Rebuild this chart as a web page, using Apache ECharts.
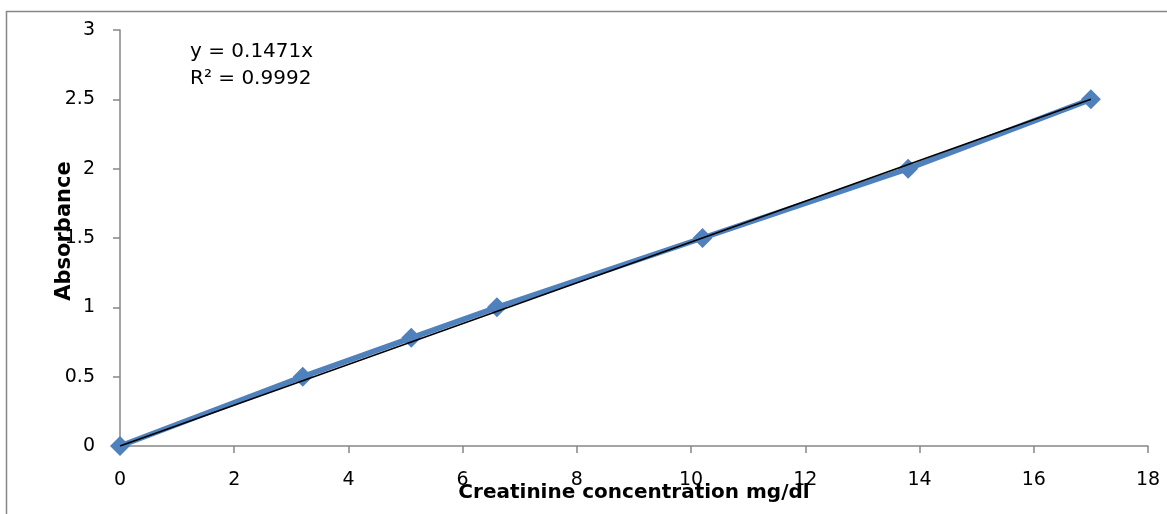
<!DOCTYPE html>
<html>
<head>
<meta charset="utf-8">
<script src="https://cdn.jsdelivr.net/npm/echarts@6/dist/echarts.min.js"></script>
<style>
html,body{margin:0;padding:0;background:#fff;}
#c{width:1167px;height:514px;}
</style>
</head>
<body>
<div id="c"></div>
<script>
var concentration = [0, 3.2, 5.1, 6.6, 10.2, 13.8, 17];
var absorbance = [0, 0.5, 0.78, 1.0, 1.5, 2.0, 2.5];
var trendSlope = 0.1471;
var trendX = [0, 17];
var equationLines = ['y = 0.1471x', 'R\u00B2 = 0.9992'];
var xTitle = 'Creatinine concentration mg/dl';
var yTitle = 'Absorbance';

var FONT = '"DejaVu Sans"';
var chart = echarts.init(document.getElementById('c'), null, {renderer: 'canvas'});
var axisColor = '#868686';
chart.setOption({
  animation: false,
  backgroundColor: '#ffffff',
  grid: {left: 120, top: 30, right: 19, bottom: 68, containLabel: false, outerBoundsMode: 'none'},
  xAxis: {
    type: 'value', min: 0, max: 18, interval: 2,
    name: xTitle, nameLocation: 'middle', nameGap: 37, nameMoveOverlap: false,
    nameTextStyle: {fontFamily: FONT, fontSize: 20, fontWeight: 'bold', color: '#000'},
    axisLine: {show: true, lineStyle: {color: axisColor, width: 1.5}},
    axisTick: {show: true, length: 7, lineStyle: {color: axisColor, width: 1.5}},
    axisLabel: {fontFamily: FONT, fontSize: 19, color: '#000', margin: 25},
    splitLine: {show: false}
  },
  yAxis: {
    type: 'value', min: 0, max: 3, interval: 0.5,
    name: yTitle, nameLocation: 'middle', nameGap: 45, nameMoveOverlap: false,
    nameTextStyle: {fontFamily: FONT, fontSize: 21, fontWeight: 'bold', color: '#000', padding: [0, 0, 0, 14]},
    axisLine: {show: true, lineStyle: {color: axisColor, width: 1.5}},
    axisTick: {show: true, length: 7, lineStyle: {color: axisColor, width: 1.5}},
    axisLabel: {fontFamily: FONT, fontSize: 19, color: '#000', margin: 25},
    splitLine: {show: false}
  },
  series: [
    {
      type: 'line',
      data: concentration.map(function (x, i) { return [x, absorbance[i]]; }),
      symbol: 'diamond', symbolSize: 20,
      itemStyle: {color: '#4F81BD'},
      lineStyle: {color: '#4F81BD', width: 5.5},
      z: 2
    },
    {
      type: 'line',
      data: trendX.map(function (x) { return [x, trendSlope * x]; }),
      symbol: 'none',
      lineStyle: {color: '#000', width: 1.6},
      z: 3
    }
  ],
  graphic: [
    {type: 'rect', shape: {x: 6.5, y: 11.5, width: 1200, height: 600}, style: {fill: 'none', stroke: axisColor, lineWidth: 1.5}, z: -1},
    {type: 'text', x: 190, y: 52, style: {text: equationLines[0], fontFamily: FONT, fontSize: 20, fill: '#000', verticalAlign: 'middle'}},
    {type: 'text', x: 190, y: 79, style: {text: equationLines[1], fontFamily: FONT, fontSize: 20, fill: '#000', verticalAlign: 'middle'}}
  ]
});
</script>
</body>
</html>
